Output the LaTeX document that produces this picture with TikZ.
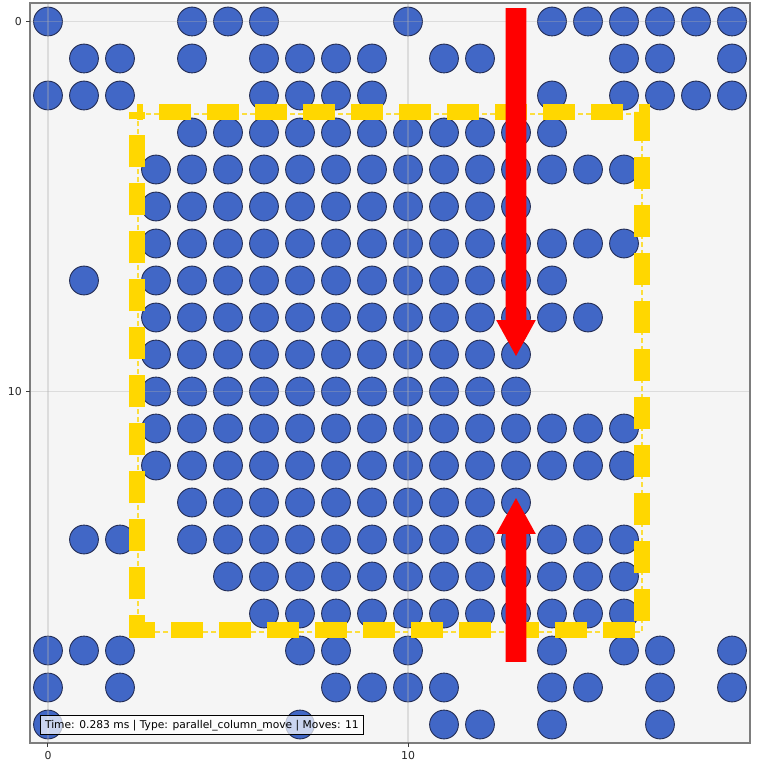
\documentclass[tikz,border=0pt]{standalone}
\usepackage{fontspec}
\setmainfont{DejaVu Sans}
\definecolor{axbg}{HTML}{F5F5F5}
\definecolor{dotfill}{RGB}{65,103,198}
\definecolor{dotedge}{RGB}{35,45,85}
\definecolor{gridc}{HTML}{B0B0B0}
\definecolor{spinec}{RGB}{125,125,125}
\definecolor{tickc}{RGB}{60,60,60}
\definecolor{goldc}{HTML}{FFD700}
\tikzset{
  dot/.style={circle, fill=dotfill, draw=dotedge, line width=0.9pt, minimum size=28.8pt, inner sep=0pt},
  gridline/.style={draw=gridc, draw opacity=0.35, line width=1.2pt},
  ticklab/.style={font=\fontsize{10.9}{13}\selectfont, text=black!85, inner sep=0pt},
  tickmark/.style={draw=tickc, line width=1pt},
  thinbox/.style={draw=goldc, draw opacity=0.75, line width=1.7pt, dash pattern=on 5pt off 3pt},
  thickbox/.style={draw=goldc, line width=15.7pt, dash pattern=on 32pt off 16pt, dash phase=26pt},
  movearrow/.style={fill=red},
  infobox/.style={draw=black, line width=0.9pt, fill=white, fill opacity=0.72, text opacity=1,
    font=\fontsize{10.7}{13}\selectfont, inner xsep=4.6pt, text height=8.2pt, text depth=2.4pt, inner ysep=4.3pt}
}
\begin{document}
\begin{tikzpicture}[x=36pt, y=-37pt]
\useasboundingbox (-1.3333,-0.5811) rectangle (20,20.1757);
\fill[white] (-1.3333,-0.5811) rectangle (20,20.1757);
% axes background
\fill[axbg] (-0.5,-0.5) rectangle (19.5,19.5);
% atoms
\foreach \r/\cols in {
  0/{0,4,5,6,10,14,15,16,17,18,19},
  1/{1,2,4,6,7,8,9,11,12,16,17,19},
  2/{0,1,2,6,7,8,9,14,16,17,18,19},
  3/{4,5,6,7,8,9,10,11,12,13,14},
  4/{3,4,5,6,7,8,9,10,11,12,13,14,15,16},
  5/{3,4,5,6,7,8,9,10,11,12,13},
  6/{3,4,5,6,7,8,9,10,11,12,13,14,15,16},
  7/{1,3,4,5,6,7,8,9,10,11,12,13,14},
  8/{3,4,5,6,7,8,9,10,11,12,13,14,15},
  9/{3,4,5,6,7,8,9,10,11,12,13},
  10/{3,4,5,6,7,8,9,10,11,12,13},
  11/{3,4,5,6,7,8,9,10,11,12,13,14,15,16},
  12/{3,4,5,6,7,8,9,10,11,12,13,14,15,16},
  13/{4,5,6,7,8,9,10,11,12,13},
  14/{1,2,4,5,6,7,8,9,10,11,12,13,14,15,16},
  15/{5,6,7,8,9,10,11,12,13,14,15,16},
  16/{6,7,8,9,10,11,12,13,14,15,16},
  17/{0,1,2,7,8,10,14,16,17,19},
  18/{0,2,8,9,10,11,14,15,17,19},
  19/{0,7,11,12,14,17}}{
  \foreach \c in \cols {
    \node[dot] (d-\r-\c) at (\c,\r) {};
  }
}
% grid
\draw[gridline] (0,-0.5) -- (0,19.5);
\draw[gridline] (10,-0.5) -- (10,19.5);
\draw[gridline] (-0.5,0) -- (19.5,0);
\draw[gridline] (-0.5,10) -- (19.5,10);
% target region
\draw[thinbox] (2.5,2.5) -- (16.5,2.5) -- (16.5,16.5) -- (2.5,16.5) -- cycle;
\draw[thickbox] (2.478,2.438) -- (16.5,2.438) -- (16.5,16.44) -- (2.478,16.44) -- cycle;
% move arrows
\coordinate (topTail) at (13,-0.36);
\coordinate (topTip) at (13,9.04);
\coordinate (botTail) at (13,17.31);
\coordinate (botTip) at (13,12.88);
\fill[movearrow] (12.71,-0.36) -- (13.29,-0.36) -- (13.29,8.07) -- (13.55,8.07) -- (topTip)
  -- (12.45,8.07) -- (12.71,8.07) -- cycle;
\fill[movearrow] (12.71,17.31) -- (13.29,17.31) -- (13.29,13.85) -- (13.55,13.85) -- (botTip)
  -- (12.45,13.85) -- (12.71,13.85) -- cycle;
% spines
\draw[spinec, line width=1.5pt] (-0.5,-0.5) rectangle (19.5,19.5);
% ticks
\draw[tickmark] (0,19.5) -- ++(0,0.1);
\draw[tickmark] (10,19.5) -- ++(0,0.1);
\draw[tickmark] (-0.5,0) -- ++(-0.1,0);
\draw[tickmark] (-0.5,10) -- ++(-0.1,0);
\node[ticklab] (xl0) at (0,19.83) {0};
\node[ticklab] (xl10) at (10,19.83) {10};
\node[ticklab, anchor=east] (yl0) at (-0.722,0) {0};
\node[ticklab, anchor=east] (yl10) at (-0.722,10) {10};
% info box
\node[infobox, anchor=west] (info) at (-0.222,19.02) {Time: 0.283 ms | Type: parallel\_column\_move | Moves: 11};
\end{tikzpicture}
\end{document}
